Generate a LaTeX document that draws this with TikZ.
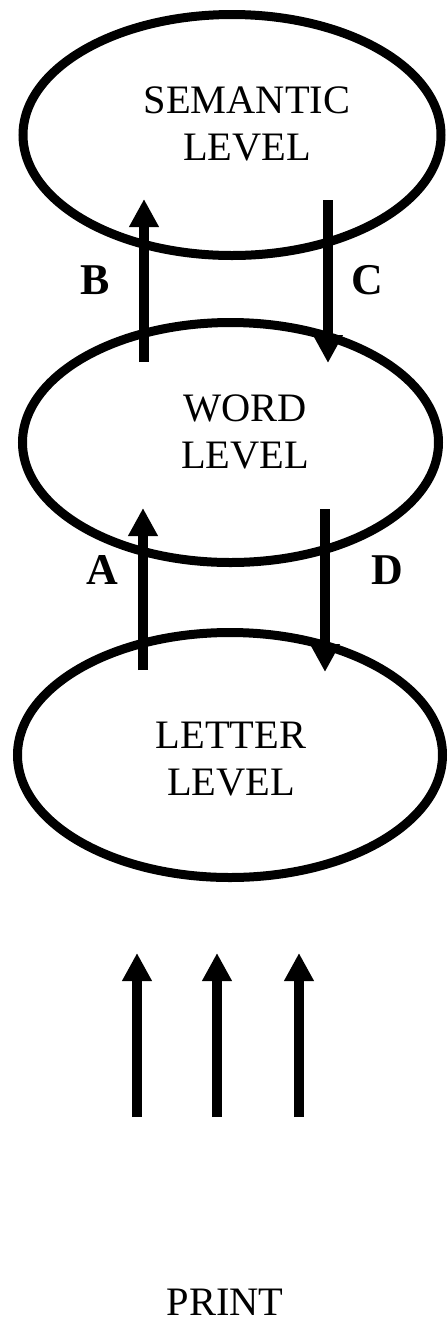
\documentclass[tikz,border=0pt]{standalone}
\usepackage{fontspec}
\setmainfont{Liberation Serif}
\usetikzlibrary{shapes.geometric,arrows.meta,positioning}

\tikzset{
  level/.style={draw, ellipse, line width=0.18cm, inner sep=0pt},
  lvltext/.style={align=center, font=\fontsize{23}{26.7}\selectfont},
  pathlbl/.style={font=\fontsize{25}{28}\selectfont\bfseries},
  flow/.style={line width=0.2cm, -{Triangle[width=0.56cm,length=0.56cm]}}
}

\begin{document}
\begin{tikzpicture}
\useasboundingbox (0,0) rectangle (8.94,-26.6);
\node[level, minimum width=8.36cm, minimum height=4.82cm] (sem) at (4.64,-2.70) {};
\node[level, minimum width=8.32cm, minimum height=4.80cm] (word) at (4.61,-8.85) {};
\node[level, minimum width=8.50cm, minimum height=4.90cm] (letter) at (4.60,-15.10) {};
\node[lvltext] (semtxt) at ([xshift=0.30cm,yshift=0.23cm]sem.center) {SEMANTIC\\LEVEL};
\node[lvltext] (wordtxt) at ([xshift=0.29cm,yshift=0.22cm]word.center) {WORD\\LEVEL};
\node[lvltext] (lettertxt) at ([xshift=0.02cm,yshift=-0.09cm]letter.center) {LETTER\\LEVEL};
\node[lvltext, anchor=base, inner sep=0pt] (print) at (4.50,-26.30) {PRINT};

\coordinate (b0) at (2.88,-7.24);
\coordinate (b1) at (2.88,-3.98);
\coordinate (c0) at (6.56,-4.00);
\coordinate (c1) at (6.56,-7.26);
\coordinate (a0) at (2.86,-13.40);
\coordinate (a1) at (2.86,-10.16);
\coordinate (d0) at (6.50,-10.18);
\coordinate (d1) at (6.50,-13.44);
\draw[flow] (b0) -- (b1);
\draw[flow] (c0) -- (c1);
\draw[flow] (a0) -- (a1);
\draw[flow] (d0) -- (d1);
\node[pathlbl] (lblb) at (1.90,-5.60) {B};
\node[pathlbl] (lblc) at (7.34,-5.60) {C};
\node[pathlbl] (lbla) at (2.04,-11.40) {A};
\node[pathlbl] (lbld) at (7.74,-11.40) {D};

\coordinate (p1) at (2.74,-22.34);
\coordinate (q1) at (2.74,-19.06);
\coordinate (p2) at (4.34,-22.34);
\coordinate (q2) at (4.34,-19.06);
\coordinate (p3) at (5.98,-22.34);
\coordinate (q3) at (5.98,-19.06);
\draw[flow] (p1) -- (q1);
\draw[flow] (p2) -- (q2);
\draw[flow] (p3) -- (q3);
\end{tikzpicture}
\end{document}
